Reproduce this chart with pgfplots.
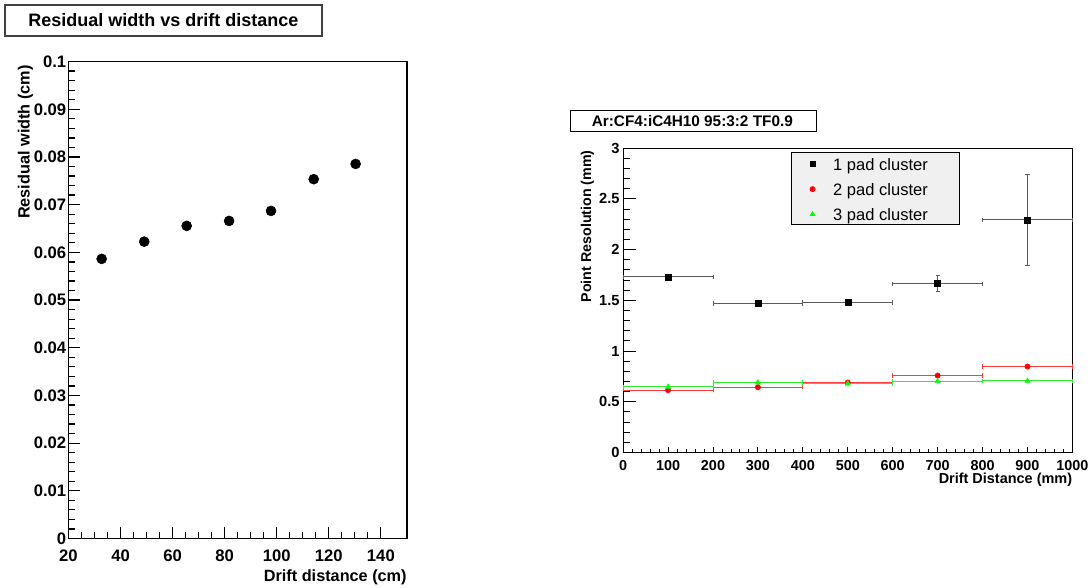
\documentclass[border=0pt]{standalone}
\usepackage{pgfplots}
\pgfplotsset{compat=1.18}
\usepackage{fontspec}
\setmainfont{Liberation Sans}

\definecolor{barblack}{HTML}{5A5A5A}
\definecolor{barred}{HTML}{FF3A3A}
\definecolor{bargreen}{HTML}{2EEB2E}
\definecolor{rootred}{HTML}{FF0000}
\definecolor{rootgreen}{HTML}{00FF00}

\pgfplotsset{
  rootaxis/.style={
    scale only axis,
    tick align=inside,
    xtick pos=bottom, ytick pos=left,
    clip=false,
  },
}

\begin{document}
\begin{tikzpicture}
% page frame (invisible)
\path (0pt,0pt) rectangle (817pt,-441pt);

% left title box
\draw[line width=1.4pt, black!75] (3.75pt,-3.75pt) rectangle (241.5pt,-27pt);
\node[font=\fontsize{13.5}{16}\selectfont\bfseries] at (122.6pt,-15.4pt) {Residual width vs drift distance};

% right title box
\draw[line width=0.8pt, black] (428.25pt,-83.25pt) rectangle (612.75pt,-99pt);
\node[font=\fontsize{11.5}{14}\selectfont\bfseries] at (519.4pt,-91.1pt) {Ar:CF4:iC4H10 95:3:2 TF0.9};

% left panel
\begin{axis}[rootaxis,
  at={(51.375pt,-404.0pt)}, anchor=south west,
  width=253.9pt, height=357.75pt,
  xmin=20, xmax=150, ymin=0, ymax=0.1,
  xtick={20,40,60,80,100,120,140}, minor x tick num=3,
  xticklabels={20,40,60,80,100,120,140},
  ytick={0,0.01,0.02,0.03,0.04,0.05,0.06,0.07,0.08,0.09,0.1}, minor y tick num=4,
  yticklabels={0,0.01,0.02,0.03,0.04,0.05,0.06,0.07,0.08,0.09,0.1},
  major tick length=9pt, minor tick length=5pt,
  axis line style={line width=1.2pt},
  xtick style={black, line width=0.9pt},
  ytick style={black, line width=0.9pt},
  xticklabel style={font=\fontsize{12.5}{14}\selectfont\bfseries, inner sep=0pt, yshift=-8pt},
  yticklabel style={font=\fontsize{12.5}{14}\selectfont\bfseries, inner sep=0pt, xshift=-1.5pt},
  xlabel={Drift distance (cm)},
  ylabel={Residual width (cm)},
  xlabel style={font=\fontsize{12.2}{14}\selectfont\bfseries, inner sep=0pt,
    at={(rel axis cs:1,-0.064)}, anchor=north east},
  ylabel style={font=\fontsize{12.2}{14}\selectfont\bfseries, inner sep=0pt,
    at={(rel axis cs:-0.127,0.993)}, anchor=east},
]
\addplot[only marks, mark=*, mark size=3.75pt, black] coordinates {
(32.75,0.05864) (49.1,0.06226) (65.4,0.06556) (81.7,0.0666)
(97.8,0.0687) (114.2,0.07535) (130.3,0.07855)
};
% y ticks, inside
\pgfplotsinvokeforeach{0,0.02,...,0.99}{
  \draw[black, line width=0.9pt] (rel axis cs:0,#1) -- ++(5pt,0pt);
}
\pgfplotsinvokeforeach{0,0.1,0.2,0.3,0.4,0.5,0.6,0.7,0.8,0.9}{
  \draw[black, line width=0.9pt] (rel axis cs:0,#1) -- ++(9pt,0pt);
}
\end{axis}

% right panel
\begin{axis}[rootaxis,
  at={(467.5pt,-339.5pt)}, anchor=south west,
  width=337.05pt, height=228.3pt,
  xmin=0, xmax=1000, ymin=0, ymax=3,
  xtick={0,100,200,300,400,500,600,700,800,900,1000}, minor x tick num=4,
  xticklabels={0,100,200,300,400,500,600,700,800,900,1000},
  ytick={0,0.5,1,1.5,2,2.5,3}, minor y tick num=4,
  yticklabels={0,0.5,1,1.5,2,2.5,3},
  major tick length=10pt, minor tick length=5pt,
  xtick style={black, line width=0.7pt, /pgfplots/major tick length=4.5pt, /pgfplots/minor tick length=3pt},
  ytick style={black, line width=0.7pt},
  axis line style={line width=0.9pt},
  xticklabel style={font=\fontsize{10.8}{13}\selectfont\bfseries, inner sep=0pt, yshift=-5.5pt},
  yticklabel style={font=\fontsize{11}{13}\selectfont\bfseries, inner sep=0pt, xshift=-2.5pt},
  xlabel={Drift Distance (mm)},
  ylabel={Point Resolution (mm)},
  xlabel style={font=\fontsize{10.85}{13}\selectfont\bfseries, inner sep=0pt,
    at={(rel axis cs:1,-0.066)}, anchor=north east},
  ylabel style={font=\fontsize{10.7}{13}\selectfont\bfseries, inner sep=0pt,
    at={(rel axis cs:-0.0797,0.994)}, anchor=east},
  legend style={at={(rel axis cs:0.3747,0.9888)}, anchor=north west,
    fill=black!6, draw=black, line width=0.6pt,
    font=\fontsize{12.4}{14}\selectfont,
    inner xsep=0pt, inner ysep=2.1pt, row sep=6.05pt, column sep=0pt,
    nodes={inner sep=0pt, text height=11.5pt, text depth=1.2pt, anchor=base west}},
  legend image code/.code={
    \path[draw=none] (0pt,0pt) (31pt,0pt);
    \draw[#1, mark size=1.9pt] plot coordinates {(15.5pt,4.5pt)};
  },
]
\addplot[only marks, mark=square*, mark size=2.25pt, black,
  error bars/.cd, x dir=both, x fixed=100, y dir=both, y explicit,
  error bar style={barblack, line width=0.75pt},
  error mark=|, error mark options={barblack, mark size=1.6pt, line width=0.75pt}]
  coordinates {
  (100,1.731) +- (0,0.02)
  (300,1.468) +- (0,0.015)
  (500,1.478) +- (0,0.03)
  (700,1.665) +- (0,0.077)
  (900,2.293) +- (0,0.447)
};
\addlegendentry{\makebox[95pt][l]{1 pad cluster}}
\addplot[only marks, mark=*, mark size=2pt, rootred,
  error bars/.cd, x dir=both, x fixed=100,
  error bar style={barred, line width=0.75pt},
  error mark=|, error mark options={barred, mark size=1.6pt, line width=0.75pt}]
  coordinates {
  (100,0.615) (300,0.644) (500,0.690) (700,0.759) (900,0.848)
};
\addlegendentry{\makebox[95pt][l]{2 pad cluster}}
\addplot[only marks, mark=triangle*, mark size=2.2pt, rootgreen,
  error bars/.cd, x dir=both, x fixed=100,
  error bar style={bargreen, line width=0.75pt},
  error mark=|, error mark options={bargreen, mark size=1.6pt, line width=0.75pt}]
  coordinates {
  (100,0.647) (300,0.690) (500,0.680) (700,0.703) (900,0.706)
};
\addlegendentry{\makebox[95pt][l]{3 pad cluster}}
% y ticks, inside
\pgfplotsinvokeforeach{0,0.0333333,...,0.99}{
  \draw[black, line width=0.7pt] (rel axis cs:0,#1) -- ++(5pt,0pt);
}
\pgfplotsinvokeforeach{0,0.1666667,0.3333333,0.5,0.6666667,0.8333333}{
  \draw[black, line width=0.7pt] (rel axis cs:0,#1) -- ++(10pt,0pt);
}
\end{axis}
\end{tikzpicture}
\end{document}
